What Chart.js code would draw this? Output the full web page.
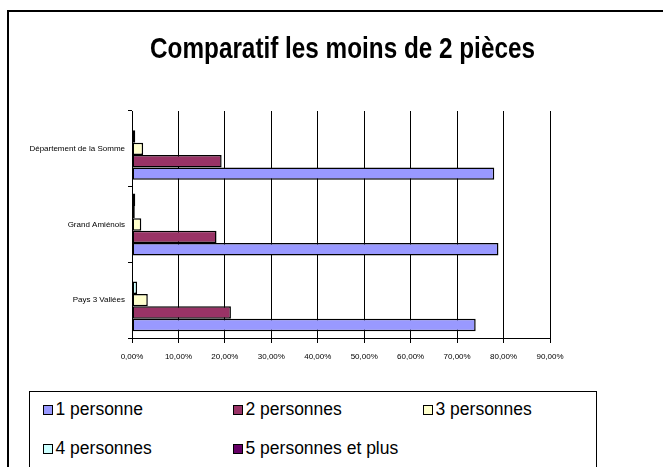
<!DOCTYPE html>
<html>
<head>
<meta charset="utf-8">
<script src="https://cdn.jsdelivr.net/npm/chart.js@4.4.0/dist/chart.umd.min.js"></script>
<style>
    body { margin: 0; background: #fff; }
    #wrap { position: relative; width: 663px; height: 467px; overflow: hidden; background: #fff; font-family: Arial, "Liberation Sans", sans-serif; }
    #frame { position: absolute; left: 7px; top: 10px; width: 700px; height: 520px; border: 2px solid #000; }
    #title { position: absolute; left: 0; top: 33px; width: 685px; text-align: center; font-weight: bold; font-size: 30px; line-height: 30px; color: #000; transform: scaleX(0.81); transform-origin: 342.5px 0; white-space: nowrap; }
    #chart { position: absolute; left: 0; top: 0; }
    #legend { position: absolute; left: 29px; top: 391px; width: 566px; height: 100px; border: 1.5px solid #000; background: #fff; }
    .item { position: absolute; height: 20px; display: flex; align-items: center; font-size: 17.5px; color: #000; white-space: nowrap; }
    .box { width: 10px; height: 10px; box-sizing: border-box; border: 1px solid #000; margin-right: 3px; }
</style>
</head>
<body>
<div id="wrap">
    <div id="frame"></div>
    <canvas id="chart" width="663" height="467"></canvas>
    <div id="title">Comparatif les moins de 2 pièces</div>
    <div id="legend"></div>
</div>
<script>
const categories = ['Département de la Somme', 'Grand Amiénois', 'Pays 3 Vallées'];

const seriesNames = ['1 personne', '2 personnes', '3 personnes', '4 personnes', '5 personnes et plus'];
const seriesColors = ['#9999FF', '#993366', '#FFFFCC', '#CCFFFF', '#660066'];

// values in %, null = no bar shown in the picture
const onePerson = [78.0, 78.9, 74.0];
const twoPersons = [19.3, 18.2, 21.3];
const threePersons = [2.4, 2.0, 3.4];
const fourPersons = [0.7, 0.6, 1.1];
const fivePlus = [null, 0.7, null];

const xTicks = [0, 10, 20, 30, 40, 50, 60, 70, 80, 90];

const seriesValues = [onePerson, twoPersons, threePersons, fourPersons, fivePlus];

// Chart.js puts the first dataset on top of each group, the picture has "1 personne" at the bottom
const datasets = seriesNames.map((name, i) => ({
    label: name,
    data: seriesValues[i],
    backgroundColor: seriesColors[i],
    borderColor: '#000',
    borderWidth: 1.5,
    borderSkipped: false,
    categoryPercentage: 0.82,
    barPercentage: 1.0
})).reverse();

// legend (HTML, two rows of three columns)
const legendEl = document.getElementById('legend');
const colX = [43, 233, 423];
const rowY = [400, 439];
seriesNames.forEach((name, i) => {
    const item = document.createElement('div');
    item.className = 'item';
    item.style.left = (colX[i % 3] - 30.5) + 'px';
    item.style.top = (rowY[Math.floor(i / 3)] - 392.5) + 'px';
    const box = document.createElement('span');
    box.className = 'box';
    box.style.background = seriesColors[i];
    item.appendChild(box);
    item.appendChild(document.createTextNode(name));
    legendEl.appendChild(item);
});

const ctx = document.getElementById('chart').getContext('2d');
new Chart(ctx, {
    type: 'bar',
    data: {
        labels: categories,
        datasets: datasets
    },
    options: {
        indexAxis: 'y',
        responsive: false,
        animation: false,
        layout: {
            padding: { left: 0, top: 111, right: 113, bottom: 99 }
        },
        plugins: {
            legend: { display: false },
            title: { display: false },
            tooltip: { enabled: false }
        },
        scales: {
            x: {
                min: xTicks[0],
                max: xTicks[xTicks.length - 1],
                afterBuildTicks: scale => {
                    scale.ticks = xTicks.map(v => ({ value: v }));
                },
                afterFit: scale => { scale.height = 30; },
                ticks: {
                    color: '#000',
                    font: { family: 'Arial, "Liberation Sans"', size: 8 },
                    padding: 9,
                    maxRotation: 0,
                    callback: v => v.toFixed(2).replace('.', ',') + '%'
                },
                grid: {
                    color: '#000',
                    lineWidth: 1,
                    tickLength: 5
                },
                border: { color: '#000', width: 1 }
            },
            y: {
                afterFit: scale => { scale.width = 132; },
                ticks: {
                    color: '#000',
                    font: { family: 'Arial, "Liberation Sans"', size: 8 },
                    padding: 3
                },
                grid: {
                    offset: true,
                    drawOnChartArea: false,
                    color: '#000',
                    tickLength: 4
                },
                border: { color: '#000', width: 1 }
            }
        }
    }
});
</script>
</body>
</html>
